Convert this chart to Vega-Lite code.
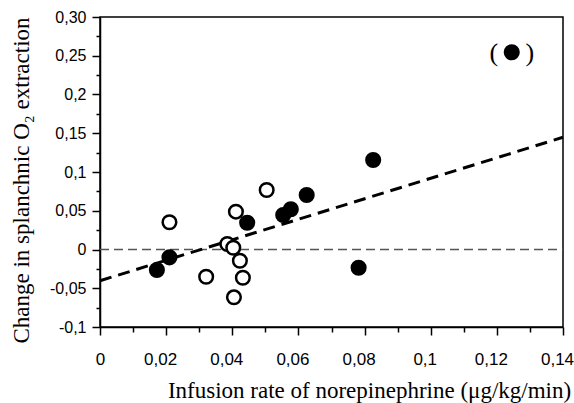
{
  "$schema": "https://vega.github.io/schema/vega-lite/v6.json",
  "width": 463,
  "height": 310,
  "autosize": {"type": "none"},
  "padding": {"left": 100, "top": 17, "right": 11, "bottom": 76},
  "background": "white",
  "config": {"view": {"stroke": "black", "strokeWidth": 1.5}},
  "datasets": {
    "points": [
      {"x": 0.0210, "y": 0.0351, "group": "open"},
      {"x": 0.0321, "y": -0.0351, "group": "open"},
      {"x": 0.0504, "y": 0.0768, "group": "open"},
      {"x": 0.0411, "y": 0.0488, "group": "open"},
      {"x": 0.0385, "y": 0.0071, "group": "open"},
      {"x": 0.0403, "y": 0.0023, "group": "open"},
      {"x": 0.0423, "y": -0.0145, "group": "open"},
      {"x": 0.0432, "y": -0.0364, "group": "open"},
      {"x": 0.0405, "y": -0.0617, "group": "open"},
      {"x": 0.0172, "y": -0.0265, "group": "filled"},
      {"x": 0.0210, "y": -0.0101, "group": "filled"},
      {"x": 0.0445, "y": 0.0346, "group": "filled"},
      {"x": 0.0554, "y": 0.0445, "group": "filled"},
      {"x": 0.0577, "y": 0.0519, "group": "filled"},
      {"x": 0.0625, "y": 0.0703, "group": "filled"},
      {"x": 0.0826, "y": 0.1155, "group": "filled"},
      {"x": 0.0782, "y": -0.0235, "group": "filled"},
      {"x": 0.1245, "y": 0.2545, "group": "filled"}
    ],
    "fit": [{"x": 0, "y": -0.0403}, {"x": 0.14, "y": 0.1448}],
    "zero": [{"x": 0, "y": 0}, {"x": 0.14, "y": 0}],
    "outlier": [{"x": 0.1245, "y": 0.2545}]
  },
  "encoding": {
    "x": {
      "field": "x",
      "type": "quantitative",
      "scale": {"domain": [0, 0.14], "nice": false, "zero": false},
      "axis": {
        "title": "Infusion rate of norepinephrine (μg/kg/min)",
        "values": [0, 0.01, 0.02, 0.03, 0.04, 0.05, 0.06, 0.07, 0.08, 0.09, 0.1, 0.11, 0.12, 0.13, 0.14],
        "labelExpr": "round(datum.value*100)%2==0 ? replace(toString(datum.value),'.',',') : ''",
        "tickSize": {"condition": {"test": "round(datum.value*100)%2==0", "value": 8}, "value": 5},
        "labelOffset": {"condition": {"test": "datum.value==0", "value": 0}, "value": -6},
        "grid": false,
        "domainColor": "black",
        "domainWidth": 1.5,
        "tickColor": "black",
        "tickWidth": 1.5,
        "labelFont": "Liberation Sans",
        "labelFontSize": 17,
        "labelColor": "black",
        "labelPadding": 16,
        "labelFlush": false,
        "labelOverlap": false,
        "titleFont": "Liberation Serif",
        "titleFontSize": 23,
        "titleFontWeight": "normal",
        "titleColor": "black",
        "titleX": 269,
        "titleY": 70,
        "titleBaseline": "alphabetic"
      }
    },
    "y": {
      "field": "y",
      "type": "quantitative",
      "scale": {"domain": [-0.1, 0.3], "nice": false, "zero": false},
      "axis": {
        "title": "Change in splanchnic O₂ extraction",
        "values": [-0.1, -0.075, -0.05, -0.025, 0, 0.025, 0.05, 0.075, 0.1, 0.125, 0.15, 0.175, 0.2, 0.225, 0.25, 0.275, 0.3],
        "labelExpr": "round(datum.value*1000)%50!=0 ? '' : (datum.value==0.3 ? '0,30' : replace(toString(datum.value),'.',','))",
        "tickSize": {"condition": {"test": "round(datum.value*1000)%50==0", "value": 8}, "value": 4},
        "grid": false,
        "domainColor": "black",
        "domainWidth": 1.5,
        "tickColor": "black",
        "tickWidth": 1.5,
        "labelFont": "Liberation Sans",
        "labelFontSize": 16,
        "labelColor": "black",
        "labelPadding": 6,
        "labelFlush": false,
        "labelOverlap": false,
        "titleFont": "Liberation Serif",
        "titleFontSize": 23,
        "titleFontWeight": "normal",
        "titleColor": "black",
        "titleX": -72,
        "titleY": 163,
        "titleAngle": -90,
        "titleBaseline": "alphabetic"
      }
    }
  },
  "layer": [
    {
      "data": {"name": "zero"},
      "mark": {"type": "line", "color": "#555555", "strokeWidth": 1.5, "strokeDash": [9, 5]}
    },
    {
      "data": {"name": "fit"},
      "mark": {"type": "line", "color": "black", "strokeWidth": 3, "strokeDash": [12, 7]}
    },
    {
      "data": {"name": "points"},
      "mark": {"type": "point", "shape": "circle", "filled": true, "stroke": "black", "strokeWidth": 2.5, "size": 185, "opacity": 1},
      "encoding": {
        "fill": {"field": "group", "type": "nominal", "scale": {"domain": ["open", "filled"], "range": ["white", "black"]}, "legend": null}
      }
    },
    {
      "data": {"name": "outlier"},
      "mark": {"type": "text", "text": "(", "font": "Liberation Serif", "fontSize": 26, "dx": -18, "dy": 1, "baseline": "middle", "align": "center", "color": "black"}
    },
    {
      "data": {"name": "outlier"},
      "mark": {"type": "text", "text": ")", "font": "Liberation Serif", "fontSize": 26, "dx": 18, "dy": 1, "baseline": "middle", "align": "center", "color": "black"}
    }
  ]
}
